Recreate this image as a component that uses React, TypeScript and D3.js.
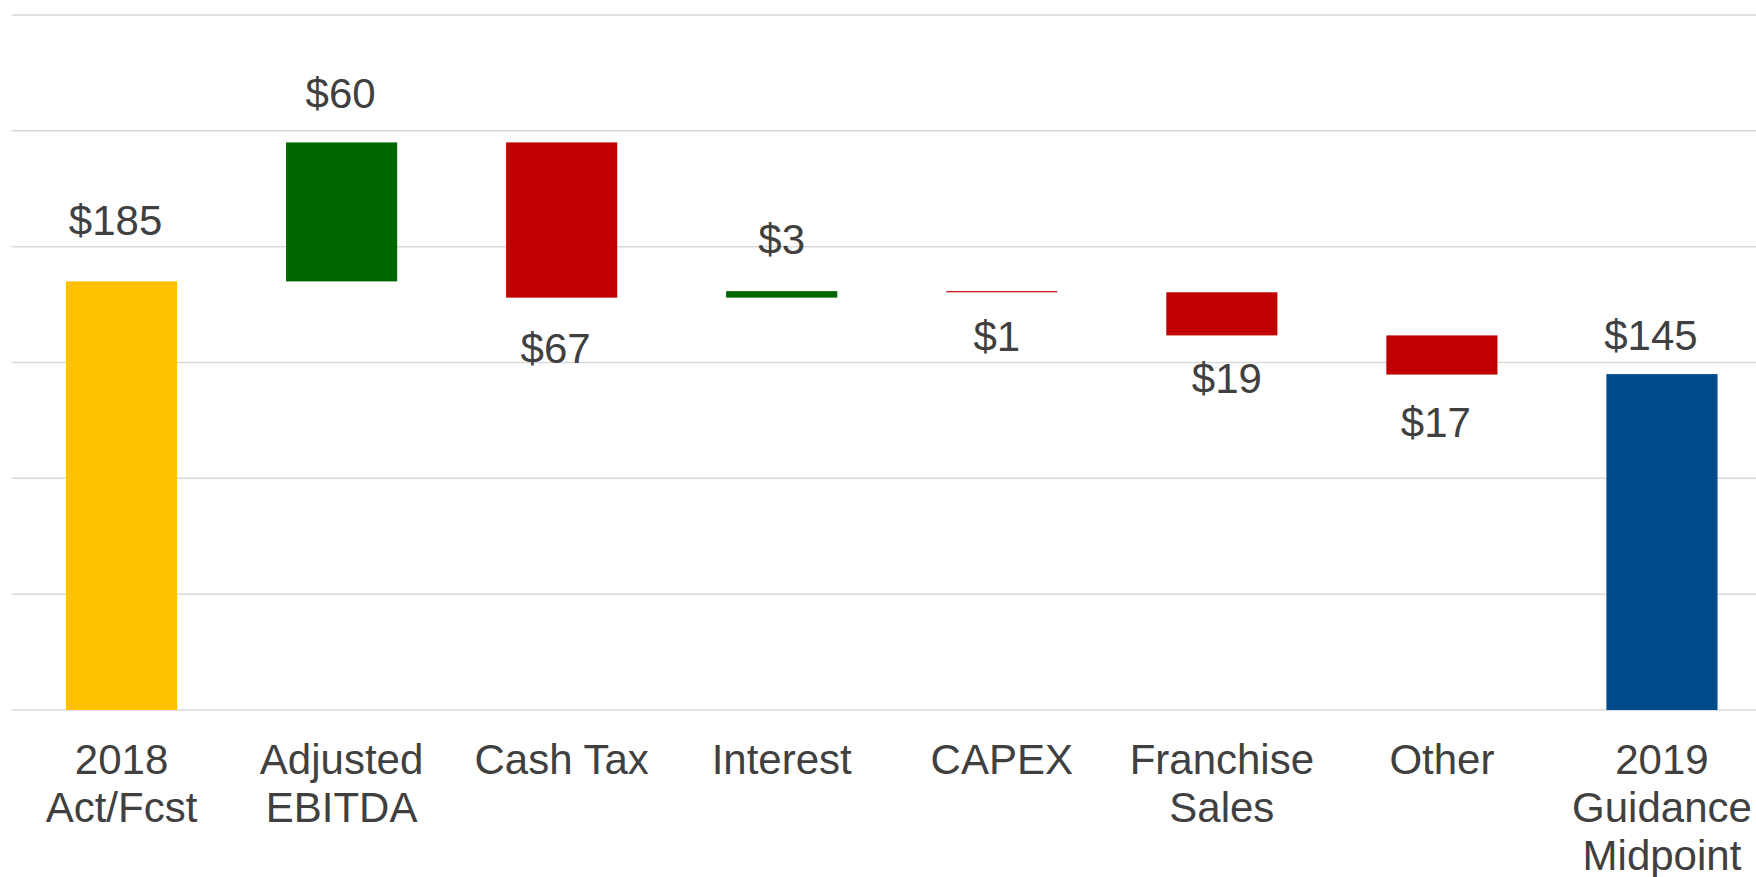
import React from "react";
import * as d3 from "d3";

const categories: string[][] = [
  ["2018", "Act/Fcst"],
  ["Adjusted", "EBITDA"],
  ["Cash Tax"],
  ["Interest"],
  ["CAPEX"],
  ["Franchise", "Sales"],
  ["Other"],
  ["2019", "Guidance", "Midpoint"],
];
const startValue = 185;
const deltas = [60, -67, 2.8, -0.5, -18.6, -16.9];
const endValue = 145;
const yTicks = [0, 50, 100, 150, 200, 250, 300];

const COLORS = { start: "#FFC000", up: "#006600", down: "#C00000", end: "#004B8B" };
// label placement (px): distance from bar edge, and horizontal nudge
const labelGap = [46, 34, 65, 37, 59, 58, 62, 24];
const labelDx = [-6, -1, -6, 0, -5, 5, -6, -11];

const W = 1756;
const H = 877;

export default function App() {
  const y = d3.scaleLinear().domain([0, 300]).range([710, 15]);
  const x = d3
    .scaleBand<number>()
    .domain(d3.range(categories.length))
    .range([11.5, 1772])
    .padding(0);
  const barW = x.bandwidth() * 0.505;

  type Bar = { lo: number; hi: number; color: string; label: string; above: boolean };
  const bars: Bar[] = [];
  bars.push({ lo: 0, hi: startValue, color: COLORS.start, label: `$${startValue}`, above: true });
  let run = startValue;
  deltas.forEach((d) => {
    const next = run + d;
    bars.push({
      lo: Math.min(run, next),
      hi: Math.max(run, next),
      color: d >= 0 ? COLORS.up : COLORS.down,
      label: `$${Math.round(Math.abs(d))}`,
      above: d >= 0,
    });
    run = next;
  });
  bars.push({ lo: 0, hi: endValue, color: COLORS.end, label: `$${endValue}`, above: true });

  const font = "'Liberation Sans', Arial, sans-serif";

  return (
    <svg
      width={W}
      height={H}
      style={{ position: "absolute", left: 0, top: 0, display: "block", background: "#fff" }}
    >
      {yTicks.map((t) => (
        <line
          key={t}
          x1={11.5}
          x2={W}
          y1={y(t)}
          y2={y(t)}
          stroke="#d9d9d9"
          strokeWidth={1.5}
        />
      ))}
      {bars.map((b, i) => {
        const cx = (x(i) as number) + x.bandwidth() / 2;
        return (
          <rect
            key={i}
            x={cx - barW / 2}
            width={barW}
            y={y(b.hi)}
            height={Math.max(0.8, y(b.lo) - y(b.hi))}
            fill={b.color}
          />
        );
      })}
      {bars.map((b, i) => {
        const cx = (x(i) as number) + x.bandwidth() / 2;
        const ty = b.above ? y(b.hi) - labelGap[i] : y(b.lo) + labelGap[i];
        return (
          <text
            key={"l" + i}
            x={cx + labelDx[i]}
            y={ty}
            textAnchor="middle"
            fontFamily={font}
            fontSize={42}
            fill="#404040"
          >
            {b.label}
          </text>
        );
      })}
      {categories.map((lines, i) => {
        const cx = (x(i) as number) + x.bandwidth() / 2;
        return (
          <text
            key={"c" + i}
            textAnchor="middle"
            fontFamily={font}
            fontSize={42}
            fill="#404040"
          >
            {lines.map((ln, j) => (
              <tspan key={j} x={cx} y={774 + j * 48}>
                {ln}
              </tspan>
            ))}
          </text>
        );
      })}
    </svg>
  );
}
